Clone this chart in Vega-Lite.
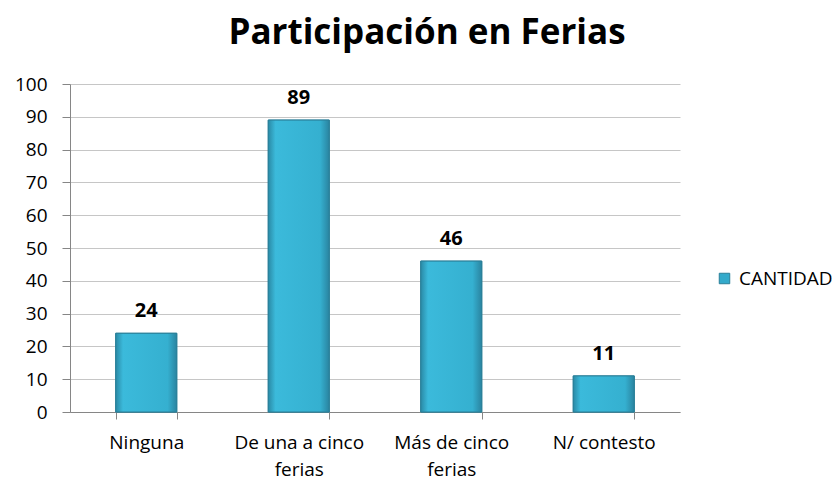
{
  "$schema": "https://vega.github.io/schema/vega-lite/v6.json",
  "autosize": {"type": "none"},
  "padding": {"left": 70, "top": 84, "right": 157, "bottom": 69},
  "width": 610,
  "height": 328,
  "background": "white",
  "config": {"view": {"stroke": null}},
  "title": {
    "text": "Participación en Ferias",
    "font": "Open Sans",
    "fontSize": 35,
    "fontWeight": "bold",
    "color": "#000000",
    "anchor": "middle",
    "dx": 52,
    "offset": 24
  },
  "data": {
    "values": [
      {"categoria": "Ninguna", "valor": 24, "serie": "CANTIDAD"},
      {"categoria": "De una a cinco ferias", "valor": 89, "serie": "CANTIDAD"},
      {"categoria": "Más de cinco ferias", "valor": 46, "serie": "CANTIDAD"},
      {"categoria": "N/ contesto", "valor": 11, "serie": "CANTIDAD"}
    ]
  },
  "encoding": {
    "x": {
      "field": "categoria",
      "type": "nominal",
      "sort": null,
      "scale": {"paddingInner": 0.6, "paddingOuter": 0.3},
      "axis": {
        "title": null,
        "labelAngle": 0,
        "labelFont": "Open Sans",
        "labelFontSize": 19,
        "labelColor": "#000000",
        "labelPadding": 14,
        "labelLineHeight": 27,
        "labelExpr": "datum.value == 'De una a cinco ferias' ? ['De una a cinco', 'ferias'] : datum.value == 'Más de cinco ferias' ? ['Más de cinco', 'ferias'] : datum.value",
        "tickBand": "extent",
        "tickSize": 7,
        "tickColor": "#868686",
        "domainColor": "#868686",
        "grid": false
      }
    },
    "y": {
      "field": "valor",
      "type": "quantitative",
      "scale": {"domain": [0, 100]},
      "axis": {
        "title": null,
        "values": [0, 10, 20, 30, 40, 50, 60, 70, 80, 90, 100],
        "labelFont": "Open Sans",
        "labelFontSize": 19,
        "labelColor": "#000000",
        "labelPadding": 15,
        "tickSize": 8,
        "tickColor": "#868686",
        "domainColor": "#868686",
        "gridColor": "#c6c6c6",
        "gridWidth": 1
      }
    }
  },
  "layer": [
    {
      "mark": {"type": "bar", "stroke": "#2a7f98", "strokeWidth": 1},
      "encoding": {
        "color": {
          "field": "serie",
          "type": "nominal",
          "scale": {"range": ["#33aacb"]},
          "legend": {
            "title": null,
            "orient": "none",
            "legendX": 645,
            "legendY": 185,
            "symbolType": "square",
            "symbolSize": 110,
            "symbolStrokeColor": "#2a7f98",
            "symbolStrokeWidth": 1,
            "labelFont": "Open Sans",
            "labelFontSize": 19,
            "labelColor": "#000000",
            "labelOffset": 5
          }
        }
      }
    },
    {
      "mark": {
        "type": "bar",
        "stroke": "#2a7f98",
        "strokeWidth": 1,
        "fill": {
          "x1": 0, "y1": 0, "x2": 1, "y2": 0,
          "gradient": "linear",
          "stops": [
            {"offset": 0, "color": "#2a8aa6"},
            {"offset": 0.12, "color": "#3bbadb"},
            {"offset": 0.85, "color": "#35b0d0"},
            {"offset": 1, "color": "#2a84a0"}
          ]
        }
      }
    },
    {
      "mark": {
        "type": "text",
        "dy": -22,
        "font": "Open Sans",
        "fontSize": 20,
        "fontWeight": "bold",
        "color": "#000000"
      },
      "encoding": {"text": {"field": "valor", "type": "quantitative"}}
    }
  ]
}
